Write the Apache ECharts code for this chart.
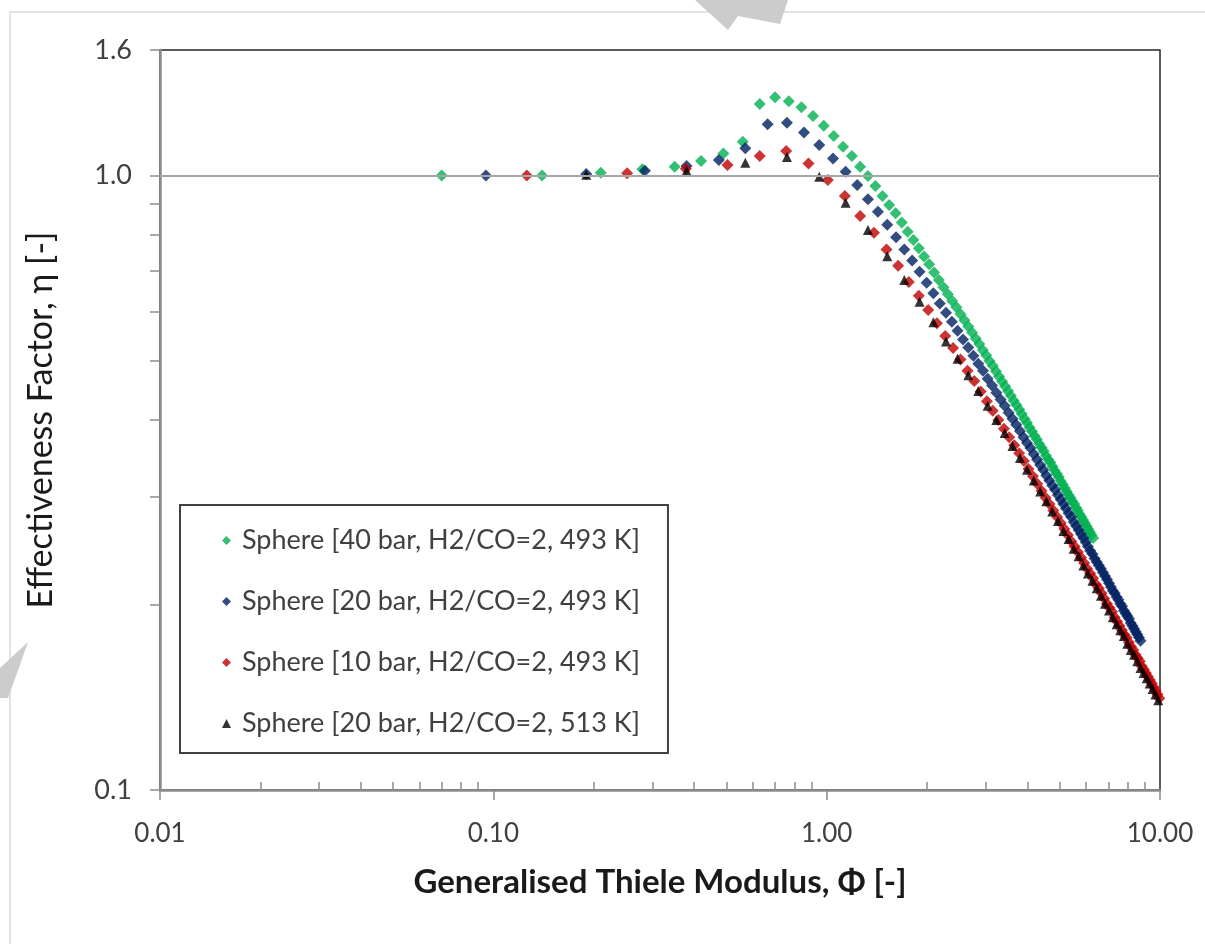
<!DOCTYPE html>
<html>
<head>
<meta charset="utf-8">
<script src="https://cdn.jsdelivr.net/npm/echarts@6/dist/echarts.min.js"></script>
<style>
html, body { margin: 0; padding: 0; background: #fff; }
#main { width: 1205px; height: 944px; }
</style>
</head>
<body>
<div id="main"></div>
<script>
var seriesNames = ['Sphere [40 bar, H2/CO=2, 493 K]', 'Sphere [20 bar, H2/CO=2, 493 K]',
	'Sphere [10 bar, H2/CO=2, 493 K]', 'Sphere [20 bar, H2/CO=2, 513 K]'];

var greenX = [0.07,0.14,0.21,0.28,0.35,0.42,0.49,0.56,0.63,0.70,
	0.77,0.84,0.91,0.98,1.05,1.12,1.19,1.26,1.33,1.40,
	1.47,1.54,1.61,1.68,1.75,1.82,1.89,1.96,2.03,2.10,
	2.17,2.24,2.31,2.38,2.45,2.52,2.59,2.66,2.73,2.80,
	2.87,2.94,3.01,3.08,3.15,3.22,3.29,3.36,3.43,3.50,
	3.57,3.64,3.71,3.78,3.85,3.92,3.99,4.06,4.13,4.20,
	4.27,4.34,4.41,4.48,4.55,4.62,4.69,4.76,4.83,4.90,
	4.97,5.04,5.11,5.18,5.25,5.32,5.39,5.46,5.53,5.60,
	5.67,5.74,5.81,5.88,5.95,6.02,6.09,6.16,6.23,6.30];
var greenY = [1.000,1.000,1.010,1.023,1.033,1.056,1.086,1.135,1.307,1.340,
	1.321,1.291,1.249,1.205,1.159,1.114,1.076,1.033,0.998,0.961,
	0.926,0.895,0.868,0.838,0.810,0.785,0.761,0.738,0.717,0.695,
	0.676,0.658,0.641,0.625,0.610,0.595,0.581,0.568,0.555,0.543,
	0.532,0.520,0.510,0.499,0.490,0.480,0.471,0.462,0.454,0.446,
	0.438,0.430,0.423,0.416,0.409,0.402,0.396,0.389,0.383,0.377,
	0.372,0.366,0.361,0.356,0.350,0.345,0.341,0.336,0.331,0.327,
	0.323,0.318,0.314,0.310,0.306,0.302,0.299,0.295,0.292,0.288,
	0.285,0.281,0.278,0.275,0.272,0.269,0.266,0.263,0.260,0.257];

var blueX = [0.095,0.19,0.285,0.38,0.475,0.57,0.665,0.76,0.855,0.95,
	1.045,1.14,1.235,1.33,1.425,1.52,1.615,1.71,1.805,1.90,
	1.995,2.09,2.185,2.28,2.375,2.47,2.565,2.66,2.755,2.85,
	2.945,3.04,3.135,3.23,3.325,3.42,3.515,3.61,3.705,3.80,
	3.895,3.99,4.085,4.18,4.275,4.37,4.465,4.56,4.655,4.75,
	4.845,4.94,5.035,5.13,5.225,5.32,5.415,5.51,5.605,5.70,
	5.795,5.89,5.985,6.08,6.175,6.27,6.365,6.46,6.555,6.65,
	6.745,6.84,6.935,7.03,7.125,7.22,7.315,7.41,7.505,7.60,
	7.695,7.79,7.885,7.98,8.075,8.17,8.265,8.36,8.455,8.55,
	8.645,8.74];
var blueY = [1.000,1.005,1.018,1.036,1.060,1.107,1.211,1.218,1.175,1.121,
	1.066,1.014,0.965,0.915,0.873,0.831,0.793,0.758,0.727,0.697,
	0.669,0.643,0.619,0.598,0.578,0.559,0.541,0.525,0.509,0.494,
	0.481,0.467,0.455,0.443,0.432,0.422,0.411,0.402,0.393,0.384,
	0.375,0.367,0.360,0.352,0.345,0.338,0.332,0.325,0.319,0.313,
	0.308,0.302,0.297,0.292,0.287,0.282,0.278,0.273,0.269,0.265,
	0.261,0.257,0.253,0.249,0.245,0.242,0.238,0.235,0.232,0.229,
	0.226,0.223,0.220,0.217,0.214,0.211,0.209,0.206,0.204,0.201,
	0.199,0.196,0.194,0.192,0.190,0.187,0.185,0.183,0.181,0.179,
	0.177,0.175];

var redX = [0.126,0.252,0.378,0.504,0.63,0.756,0.882,1.008,1.134,1.26,
	1.386,1.512,1.638,1.764,1.89,2.016,2.142,2.268,2.394,2.52,
	2.646,2.772,2.898,3.024,3.15,3.276,3.402,3.528,3.654,3.78,
	3.906,4.032,4.158,4.284,4.41,4.536,4.662,4.788,4.914,5.04,
	5.166,5.292,5.418,5.544,5.67,5.796,5.922,6.048,6.174,6.30,
	6.426,6.552,6.678,6.804,6.93,7.056,7.182,7.308,7.434,7.56,
	7.686,7.812,7.938,8.064,8.19,8.316,8.442,8.568,8.694,8.82,
	8.946,9.072,9.198,9.324,9.45,9.576,9.702,9.828,9.954];
var redY = [1.000,1.008,1.025,1.040,1.076,1.096,1.046,0.983,0.926,0.859,
	0.807,0.758,0.713,0.671,0.637,0.604,0.575,0.548,0.524,0.502,
	0.481,0.463,0.445,0.429,0.414,0.400,0.387,0.375,0.364,0.353,
	0.343,0.333,0.324,0.315,0.307,0.299,0.292,0.285,0.278,0.272,
	0.266,0.260,0.254,0.249,0.244,0.239,0.234,0.229,0.225,0.221,
	0.216,0.213,0.209,0.205,0.201,0.198,0.195,0.191,0.188,0.185,
	0.182,0.179,0.177,0.174,0.171,0.169,0.166,0.164,0.162,0.159,
	0.157,0.155,0.153,0.151,0.149,0.147,0.145,0.143,0.141];

var blackX = [0.19,0.38,0.57,0.76,0.95,1.14,1.33,1.52,1.71,1.90,
	2.09,2.28,2.47,2.66,2.85,3.04,3.23,3.42,3.61,3.80,
	3.99,4.18,4.37,4.56,4.75,4.94,5.13,5.32,5.51,5.70,
	5.89,6.08,6.27,6.46,6.65,6.84,7.03,7.22,7.41,7.60,
	7.79,7.98,8.17,8.36,8.55,8.74,8.93,9.12,9.31,9.50,
	9.69,9.88];
var blackY = [1.003,1.018,1.049,1.072,0.995,0.903,0.815,0.739,0.676,0.623,
	0.577,0.537,0.503,0.473,0.446,0.422,0.400,0.381,0.363,0.347,
	0.332,0.319,0.306,0.295,0.284,0.274,0.264,0.256,0.247,0.240,
	0.232,0.225,0.219,0.213,0.207,0.201,0.196,0.191,0.186,0.182,
	0.178,0.173,0.169,0.166,0.162,0.158,0.155,0.152,0.149,0.146,
	0.143,0.140];

var xMajorTicks = [0.01, 0.1, 1, 10];
var xMinorTicks = [0.02,0.03,0.04,0.05,0.06,0.07,0.08,0.09,
	0.2,0.3,0.4,0.5,0.6,0.7,0.8,0.9,2,3,4,5,6,7,8,9];
var yTicks = [0.1,0.2,0.3,0.4,0.5,0.6,0.7,0.8,0.9,1,1.6];
var yLabels = [0.1, 1, 1.6];

function pairs(xs, ys) {
	var out = [];
	for (var i = 0; i < xs.length; i++) {
		out.push([xs[i], ys[i]]);
	}
	return out;
}

var chart = echarts.init(document.getElementById('main'));

var font = 'Lato, "Open Sans", sans-serif';

var option = {
	animation : false,
	textStyle : { fontFamily : font },
	graphic : [ {
		type : 'polyline',
		shape : { points : [ [ 10, 944 ], [ 10, 12 ], [ 1205, 12 ] ] },
		style : { stroke : '#d9d9d9', lineWidth : 1.5, fill : null }
	}, {
		// bits of the watermark that show at the edges
		type : 'polygon',
		shape : { points : [ [ 695, 0 ], [ 788, 0 ], [ 780, 24 ], [ 738, 16 ], [ 728, 30 ] ] },
		style : { fill : '#cccccc' }
	}, {
		type : 'polygon',
		shape : { points : [ [ 0, 668 ], [ 28, 642 ], [ 21, 662 ], [ 8, 698 ], [ 0, 698 ] ] },
		style : { fill : '#cccccc' }
	} ],
	grid : {
		left : 160,
		right : 45,
		top : 50,
		bottom : 154,
		show : true,
		borderColor : '#262626',
		borderWidth : 1.5,
		backgroundColor : '#fff'
	},
	legend : {
		orient : 'vertical',
		left : 180,
		top : 505,
		padding : [ 22, 28, 16, 42 ],
		itemGap : 34,
		itemWidth : 9,
		itemHeight : 9,
		backgroundColor : '#fff',
		borderColor : '#404040',
		borderWidth : 2,
		textStyle : {
			fontFamily : font,
			fontSize : 27,
			color : '#404040',
			lineHeight : 26,
			padding : [ 0, 0, 0, 6 ]
		},
		data : [
			{ name : seriesNames[0], icon : 'diamond' },
			{ name : seriesNames[1], icon : 'diamond' },
			{ name : seriesNames[2], icon : 'diamond' },
			{ name : seriesNames[3], icon : 'triangle' }
		]
	},
	xAxis : [ {
		type : 'log',
		logBase : 10,
		min : 0.01,
		max : 10,
		name : 'Generalised Thiele Modulus, \u03A6 [-]',
		nameLocation : 'middle',
		nameGap : 76,
		nameTextStyle : { fontFamily : font, fontSize : 33, fontWeight : 'bold', color : '#1a1a1a' },
		axisLine : { lineStyle : { color : '#8c8c8c', width : 2.5 } },
		axisTick : { customValues : xMajorTicks, length : 10, lineStyle : { color : '#8c8c8c', width : 1.5 } },
		axisLabel : {
			margin : 31,
			fontFamily : font,
			fontSize : 26,
			color : '#404040',
			formatter : function(v) { return Number(v).toFixed(2); }
		},
		splitLine : { show : false }
	}, {
		// minor ticks on the inside
		type : 'log',
		logBase : 10,
		min : 0.01,
		max : 10,
		position : 'bottom',
		axisLine : { show : false },
		axisLabel : { show : false },
		axisTick : { customValues : xMinorTicks, inside : true, length : 8, lineStyle : { color : '#8c8c8c', width : 1.5 } },
		splitLine : { show : false }
	} ],
	yAxis : {
		type : 'log',
		logBase : 10,
		min : 0.1,
		max : 1.6,
		name : 'Effectiveness Factor, \u03B7 [-]',
		nameLocation : 'middle',
		nameRotate : 90,
		nameGap : 102,
		nameTextStyle : { fontFamily : font, fontSize : 34, color : '#1a1a1a' },
		axisLine : { show : true, lineStyle : { color : '#8c8c8c', width : 2.5 } },
		axisTick : { customValues : yTicks, length : 10, lineStyle : { color : '#8c8c8c', width : 1.5 } },
		axisLabel : {
			customValues : yLabels,
			margin : 28,
			fontFamily : font,
			fontSize : 27,
			color : '#404040',
			formatter : function(v) { return Number(v).toFixed(1); }
		},
		splitLine : { show : false }
	},
	series : [ {
		name : seriesNames[0],
		type : 'scatter',
		symbol : 'diamond',
		symbolSize : 12,
		itemStyle : { color : '#00b050' },
		markLine : {
			silent : true,
			symbol : 'none',
			label : { show : false },
			lineStyle : { color : '#a6a6a6', width : 2, type : 'solid' },
			data : [ { yAxis : 1 } ]
		},
		data : pairs(greenX, greenY)
	}, {
		name : seriesNames[1],
		type : 'scatter',
		symbol : 'diamond',
		symbolSize : 12,
		itemStyle : { color : '#002060' },
		data : pairs(blueX, blueY)
	}, {
		name : seriesNames[2],
		type : 'scatter',
		symbol : 'diamond',
		symbolSize : 12,
		itemStyle : { color : '#c00000' },
		data : pairs(redX, redY)
	}, {
		name : seriesNames[3],
		type : 'scatter',
		symbol : 'triangle',
		symbolSize : 10,
		itemStyle : { color : '#000000' },
		data : pairs(blackX, blackY)
	} ]
};

chart.setOption(option);
</script>
</body>
</html>
